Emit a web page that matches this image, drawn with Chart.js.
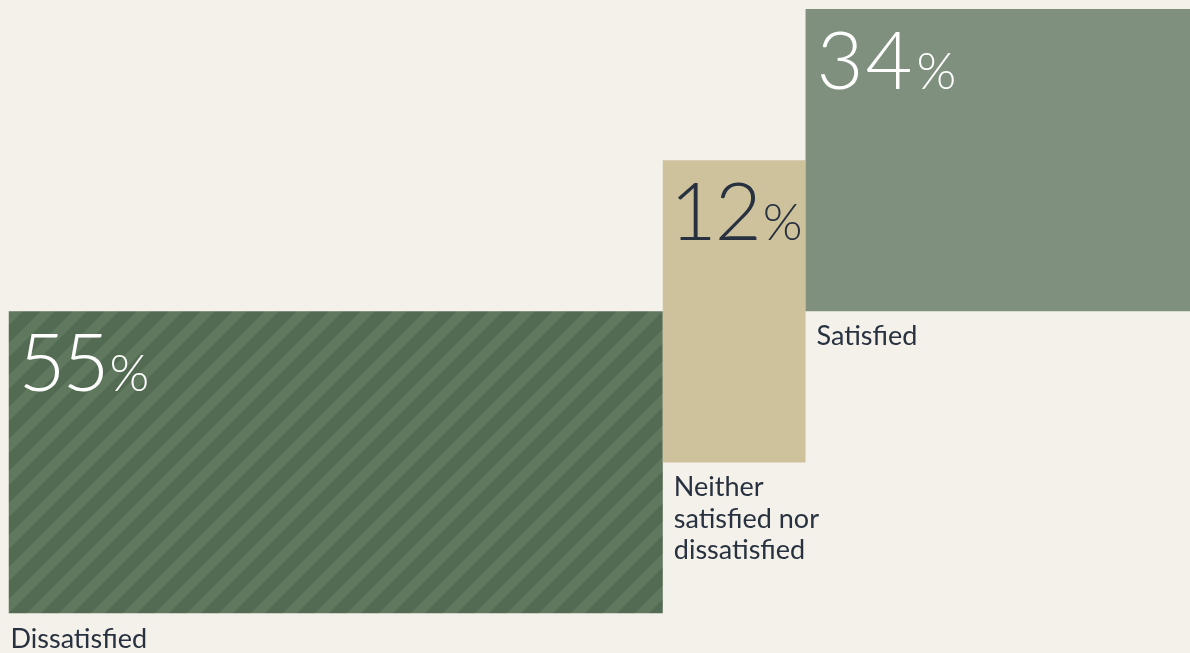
<!DOCTYPE html>
<html lang="en">
<head>
<meta charset="utf-8">
<title>Satisfaction</title>
<script src="https://cdn.jsdelivr.net/npm/chart.js@4/dist/chart.umd.min.js"></script>
<style>
  html, body { margin: 0; padding: 0; overflow: hidden; background: #f4f1ea; }
  #wrap { position: relative; width: 1210px; height: 653px; }
</style>
</head>
<body>
<div id="wrap"><canvas id="chart"></canvas></div>
<script>
// Share of respondents per answer
const categories = ['Dissatisfied', 'Neither satisfied nor dissatisfied', 'Satisfied'];
const shares = [55, 12, 34];
const labelLines = [['Dissatisfied'], ['Neither', 'satisfied nor', 'dissatisfied'], ['Satisfied']];

// Each answer becomes a block whose width is its share; blocks step upward left to right
const starts = shares.map((v, i) => shares.slice(0, i).reduce((a, b) => a + b, 0));
const total = shares.reduce((a, b) => a + b, 0);
const blocks = shares.map((v, i) => ({ x: [starts[i], starts[i] + v], y: i }));

// Diagonal hatch for the dissatisfied block
function hatch(base, stripe, period, width) {
  const c = document.createElement('canvas');
  c.width = period; c.height = period;
  const g = c.getContext('2d');
  g.fillStyle = base;
  g.fillRect(0, 0, period, period);
  g.fillStyle = stripe;
  [0, period].forEach(o => {
    g.beginPath();
    g.moveTo(o, 0);
    g.lineTo(o + width, 0);
    g.lineTo(o + width - period, period);
    g.lineTo(o - period, period);
    g.closePath();
    g.fill();
  });
  return g.createPattern(c, 'repeat');
}

// Draws glyphs with an even gap between their inked shapes (proportional figures)
function drawTight(ctx, text, x, y, gap) {
  let cursor = x;
  for (const ch of text) {
    const m = ctx.measureText(ch);
    ctx.fillText(ch, cursor + m.actualBoundingBoxLeft, y);
    cursor += m.actualBoundingBoxLeft + m.actualBoundingBoxRight + gap;
  }
  return cursor;
}

const blockLabels = {
  id: 'blockLabels',
  afterDatasetsDraw(chart, args, opts) {
    const { ctx } = chart;
    const meta = chart.getDatasetMeta(0);
    meta.data.forEach((bar, i) => {
      const p = bar.getProps(['x', 'y', 'base', 'height'], true);
      const left = Math.min(p.x, p.base);
      const top = p.y - p.height / 2;
      const bottom = p.y + p.height / 2;
      ctx.save();
      ctx.textBaseline = 'alphabetic';
      ctx.textAlign = 'left';
      // value with a smaller percent sign
      ctx.fillStyle = opts.valueColors[i];
      ctx.font = '300 81px Lato, "Open Sans", sans-serif';
      const ny = top + 80;
      const after = drawTight(ctx, String(shares[i]), left + 15, ny, 8);
      ctx.font = '300 51px Lato, "Open Sans", sans-serif';
      drawTight(ctx, '%', after, ny, 0);
      // category name under the block
      ctx.fillStyle = '#27313f';
      ctx.font = '400 27px Lato, "Open Sans", sans-serif';
      const lx = left + (i === 0 ? 2 : 11);
      labelLines[i].forEach((line, k) => {
        ctx.fillText(line, lx, bottom + 34 + k * 31.5);
      });
      ctx.restore();
    });
  }
};

const ctx = document.getElementById('chart');
new Chart(ctx, {
  type: 'bar',
  data: {
    labels: categories,
    datasets: [{
      data: blocks,
      backgroundColor: [
        hatch('#526b52', '#5f785e', 32, 14),
        '#cdc29c',
        '#7f917e'
      ],
      borderWidth: 0,
      categoryPercentage: 2,
      barPercentage: 1
    }]
  },
  options: {
    indexAxis: 'y',
    responsive: true,
    maintainAspectRatio: false,
    animation: false,
    layout: { padding: { left: 8.5, right: 0, top: 9, bottom: 39.5 } },
    scales: {
      x: { type: 'linear', min: 0, max: total, display: false, grid: { display: false } },
      y: {
        type: 'linear', min: -1, max: 3, offset: false, display: false,
        ticks: { stepSize: 1 }, grid: { display: false }
      }
    },
    plugins: {
      legend: { display: false },
      tooltip: { enabled: false },
      blockLabels: { valueColors: ['#ffffff', '#27313f', '#ffffff'] }
    }
  },
  plugins: [blockLabels]
});
</script>
</body>
</html>
